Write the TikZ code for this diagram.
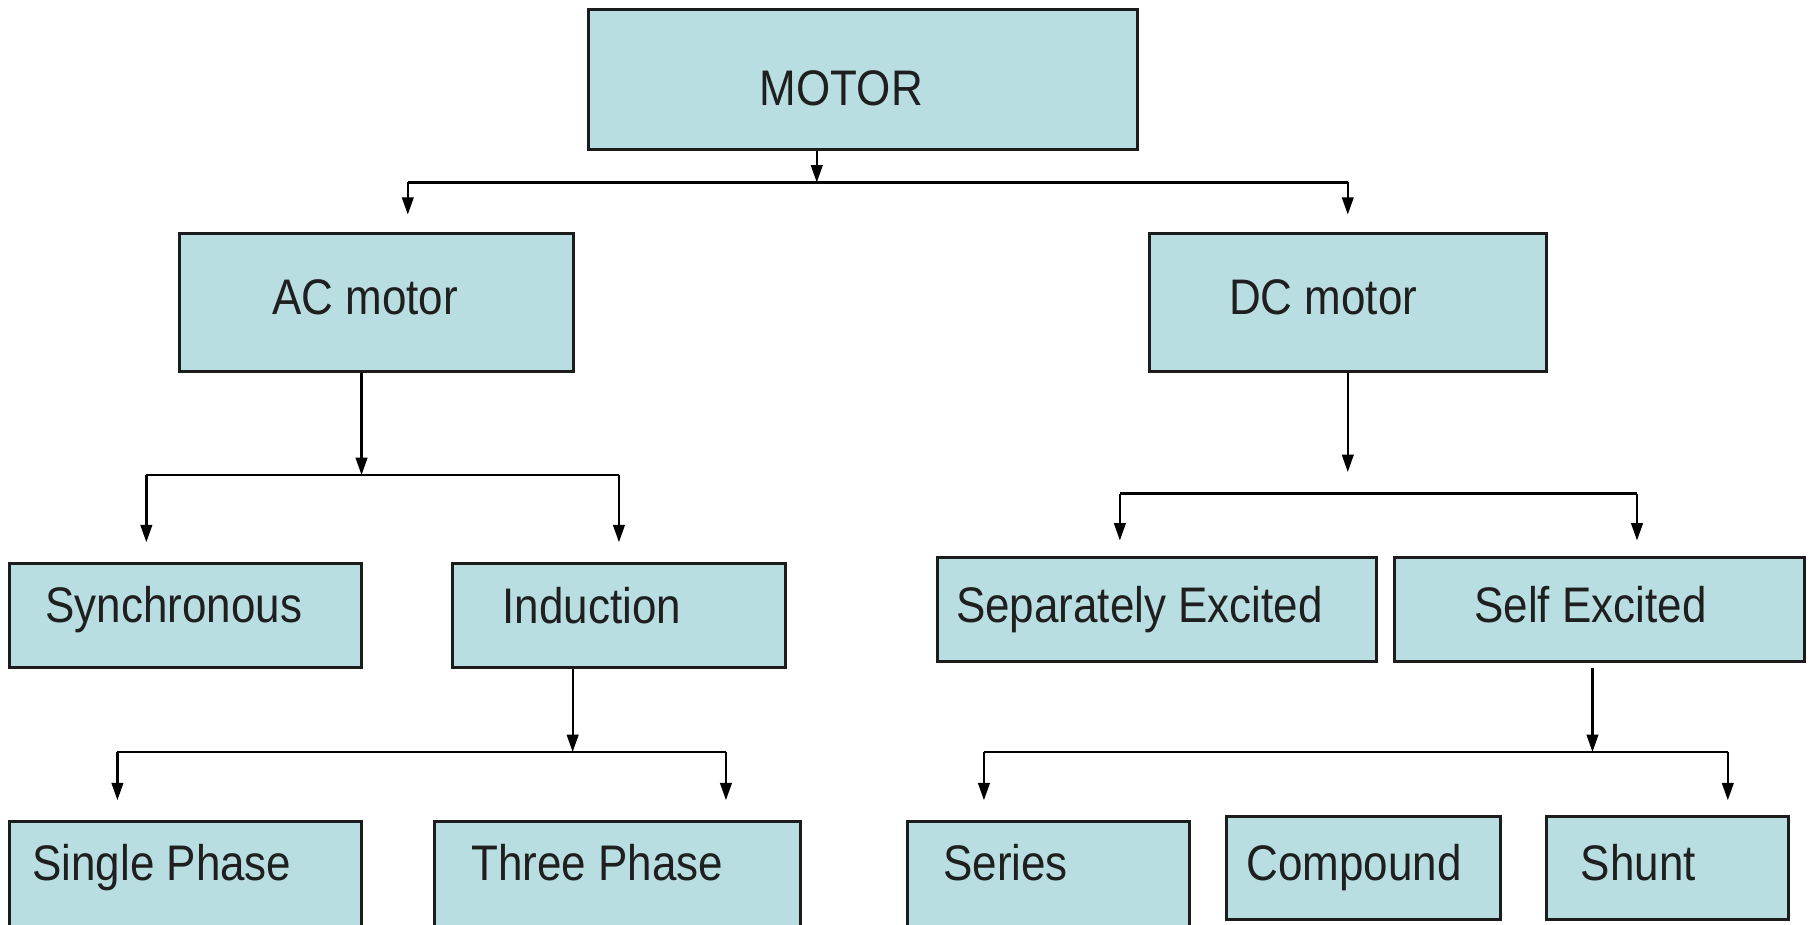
\documentclass[tikz,border=0pt]{standalone}
\usepackage{fontspec}
\setmainfont{Liberation Sans}[FakeStretch=0.88]
\usetikzlibrary{arrows.meta,fit}
\definecolor{boxfill}{RGB}{185,222,226}
\definecolor{edgec}{RGB}{28,28,28}
\begin{document}
\begin{tikzpicture}[x=0.5pt,y=-0.5pt,
  box/.style={draw=edgec, line width=1.3pt, fill=boxfill, inner sep=0pt},
  lbl/.style={anchor=base west, inner sep=0pt, font=\fontsize{21.6}{26}\selectfont, text=black!88},
  conn/.style={draw=black, line width=1pt},
  arr/.style={conn, -{Triangle[length=7.5pt,width=5pt]}}]
\useasboundingbox (0,0) rectangle (1568,798.7);
\fill[white] (0,0) rectangle (1568,798.7);
\clip (0,0) rectangle (1568,798.7);

% boxes
\node[box, fit={(509,8) (983,129.6)}] (motor) {};
\node[box, fit={(155,202) (496,321)}] (ac) {};
\node[box, fit={(994,202) (1337,321)}] (dc) {};
\node[box, fit={(8.5,487) (312.5,577)}] (sync) {};
\node[box, fit={(391,487) (679,577)}] (ind) {};
\node[box, fit={(8.5,710.5) (312.5,800.5)}] (single) {};
\node[box, fit={(376,710.5) (692,800.5)}] (three) {};
\node[box, fit={(810,482) (1190,572)}] (sep) {};
\node[box, fit={(1205,482) (1560,572)}] (self) {};
\node[box, fit={(784,710.5) (1028.5,800.5)}] (series) {};
\node[box, fit={(1060,705.5) (1297,795)}] (comp) {};
\node[box, fit={(1337,705.5) (1546,795)}] (shunt) {};

% labels
\node[lbl] (tmotor) at (656.5,91) {MOTOR};
\node[lbl] (tac) at (235,272) {AC motor};
\node[lbl] (tdc) at (1062,272) {DC motor};
\node[lbl] (tsync) at (39,538) {Synchronous};
\node[lbl] (tind) at (434,539) {Induction};
\node[lbl] (tsingle) at (27.5,761) {Single Phase};
\node[lbl] (tthree) at (407,761) {Three Phase};
\node[lbl] (tsep) at (826,538) {Separately Excited};
\node[lbl] (tself) at (1274,538) {Self Excited};
\node[lbl] (tseries) at (815,761) {Series};
\node[lbl] (tcomp) at (1077,761) {Compound};
\node[lbl] (tshunt) at (1366,761) {Shunt};

% junction coordinates
\coordinate (mJ) at (706,157.7);
\coordinate (mL) at (352.5,157.7);
\coordinate (mR) at (1165,157.7);
\coordinate (aJ) at (312.5,410.6);
\coordinate (aL) at (126.5,410.6);
\coordinate (aR) at (535,410.6);
\coordinate (iJ) at (495,650);
\coordinate (iL) at (101.5,650);
\coordinate (iR) at (627.5,650);
\coordinate (dJ) at (1165,426.7);
\coordinate (dL) at (968,426.7);
\coordinate (dR) at (1415,426.7);
\coordinate (sJ) at (1376.5,650);
\coordinate (sL) at (850.5,650);
\coordinate (sR) at (1493.5,650);

% MOTOR level
\draw[arr] (motor.south -| mJ) -- (mJ);
\draw[conn] (mL) -- (mR);
\draw[arr, shorten >=7.6pt] (mL) -- (mL |- ac.north);
\draw[arr, shorten >=7.6pt] (mR) -- (mR |- dc.north);

% AC level
\draw[arr] (ac.south -| aJ) -- (aJ);
\draw[conn] (aL) -- (aR);
\draw[arr, shorten >=8.5pt] (aL) -- (aL |- sync.north);
\draw[arr, shorten >=8.5pt] (aR) -- (aR |- ind.north);

% Induction level
\draw[arr] (ind.south -| iJ) -- (iJ);
\draw[conn] (iL) -- (iR);
\draw[arr, shorten >=8.75pt] (iL) -- (iL |- single.north);
\draw[arr, shorten >=8.75pt] (iR) -- (iR |- three.north);

% DC level
\draw[arr, shorten >=9.35pt] (dc.south -| dJ) -- (dJ);
\draw[conn] (dL) -- (dR);
\draw[arr, shorten >=6.75pt] (dL) -- (dL |- sep.north);
\draw[arr, shorten >=6.75pt] (dR) -- (dR |- self.north);

% Self excited level
\draw[arr, shorten <=2.25pt] (self.south -| sJ) -- (sJ);
\draw[conn] (sL) -- (sR);
\draw[arr, shorten >=8.75pt] (sL) -- (sL |- series.north);
\draw[arr, shorten >=6.25pt] (sR) -- (sR |- shunt.north);
\end{tikzpicture}
\end{document}
